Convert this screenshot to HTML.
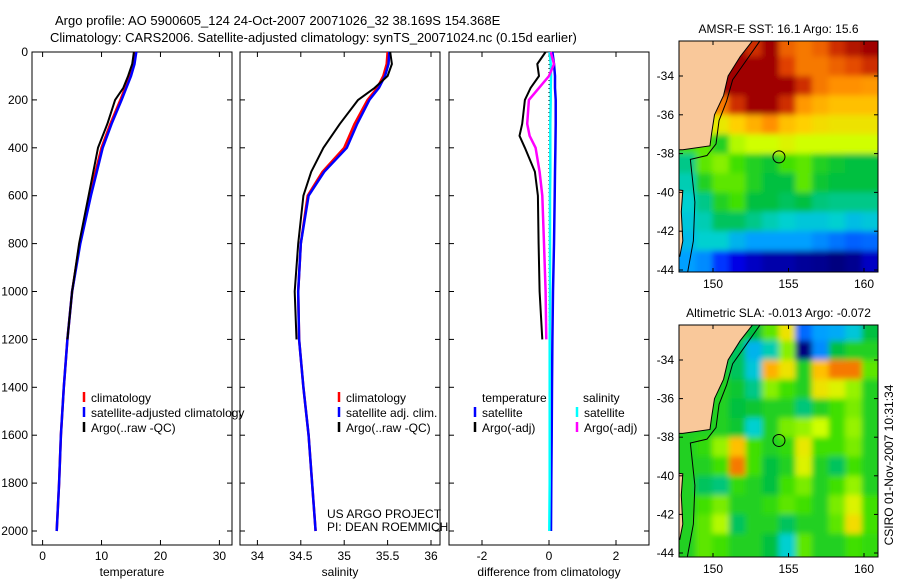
<!DOCTYPE html>
<html><head><meta charset="utf-8"><style>
html,body{margin:0;padding:0;background:#fff;}
svg{display:block;font-family:"Liberation Sans",sans-serif;}
text{font-size:12px;fill:#000;}
</style></head><body>
<svg id="fig" width="900" height="580" viewBox="0 0 900 580" xmlns="http://www.w3.org/2000/svg">
<text x="55" y="25" style="font-size:13px">Argo profile: AO 5900605_124 24-Oct-2007 20071026_32 38.169S 154.368E</text>
<text x="50" y="42" style="font-size:13px">Climatology: CARS2006. Satellite-adjusted climatology: synTS_20071024.nc (0.15d earlier)</text>
<text transform="translate(893,465) rotate(-90)" text-anchor="middle">CSIRO 01-Nov-2007 10:31:34</text>
</svg>
<script>
// ---- data ----
const depths = [0,50,100,150,200,300,400,500,600,800,1000,1200,1400,1600,1800,2000];
const tempClim = [15.7,15.4,14.8,14.0,13.2,11.5,10.0,9.0,8.0,6.3,5.0,4.2,3.6,3.1,2.8,2.4];
const tempSat  = [15.9,15.6,15.0,14.2,13.4,11.7,10.2,9.2,8.2,6.4,5.0,4.2,3.6,3.1,2.8,2.4];
const tempArgo = [15.5,15.2,14.5,13.7,12.3,11.0,9.4,8.6,7.8,6.2,5.0,4.2];
const salClim = [35.50,35.49,35.45,35.38,35.27,35.12,35.00,34.75,34.58,34.50,34.47,34.48,34.53,34.59,34.63,34.67];
const salSat  = [35.52,35.51,35.47,35.40,35.29,35.15,35.03,34.77,34.59,34.50,34.47,34.48,34.53,34.59,34.63,34.67];
const salArgo = [35.53,35.55,35.50,35.35,35.16,34.95,34.76,34.62,34.53,34.47,34.43,34.45];
const diffDepths = [0,50,100,150,200,300,350,400,500,600,800,1000,1200];
const tempArgoDiff = [-0.1,-0.35,-0.3,-0.55,-0.72,-0.8,-0.88,-0.72,-0.42,-0.33,-0.31,-0.28,-0.2];
const salArgoDiff  = [0.05,0.15,0.0,-0.3,-0.6,-0.65,-0.58,-0.4,-0.28,-0.2,-0.15,-0.1,-0.08];
const tempSatDiff = [0.1,0.15,0.18,0.18,0.2,0.2,0.19,0.18,0.17,0.15,0.12,0.1,0.09,0.08,0.07,0.06];
const salSatDiff  = [0.02,0.05,0.06,0.05,0.05,0.04,0.04,0.04,0.03,0.03,0.03,0.02,0.02,0.02,0.02,0.01];
const yTicks = [0,200,400,600,800,1000,1200,1400,1600,1800,2000];
const tTicks = [0,10,20,30];
const sTicks = [34,34.5,35,35.5,36];
const sTickLabels = ["34","34.5","35","35.5","36"];
const dTicks = [-2,0,2];
const mapLons = [148.3,149.4,150.5,151.6,152.7,153.8,154.9,156.0,157.1,158.2,159.3,160.4];
const mapLats = [-32.5,-33.5,-34.5,-35.5,-36.5,-37.5,-38.5,-39.5,-40.5,-41.5,-42.5,-43.5];
const sst = [
[1,1,1,1,.95,1,.9,.88,.9,.95,.98,1],
[1,1,1,1,1,1,.93,.88,.88,.9,.92,.95],
[.9,.95,1,1,1,1,1,.95,.88,.86,.86,.85],
[.8,.82,.88,.95,1,1,.95,.85,.82,.8,.8,.8],
[.72,.72,.74,.78,.82,.86,.8,.78,.76,.75,.75,.75],
[.6,.62,.55,.68,.7,.7,.72,.7,.7,.7,.7,.7],
[.45,.62,.65,.6,.55,.52,.6,.62,.55,.52,.5,.5],
[.42,.55,.62,.62,.55,.5,.5,.62,.52,.5,.5,.5],
[.4,.45,.55,.6,.5,.5,.48,.5,.46,.45,.45,.45],
[.38,.42,.48,.48,.45,.42,.4,.38,.38,.4,.36,.38],
[.35,.4,.4,.34,.3,.3,.3,.3,.28,.26,.24,.25],
[.3,.28,.2,.12,.08,.05,.05,.03,.02,.0,.02,.08]];
const sla = [
[.55,.55,.55,.55,.5,.62,.75,.25,.3,.32,.38,.5],
[.55,.55,.55,.48,.34,.42,.65,.0,.28,.5,.55,.55],
[.55,.55,.55,.48,.38,.82,.75,.55,.8,.88,.88,.62],
[.55,.55,.55,.52,.45,.65,.6,.55,.75,.72,.66,.55],
[.55,.55,.55,.5,.52,.55,.55,.46,.55,.6,.64,.55],
[.55,.55,.55,.52,.4,.55,.64,.66,.7,.6,.66,.55],
[.55,.58,.66,.8,.6,.55,.58,.74,.6,.6,.64,.55],
[.55,.55,.6,.88,.6,.5,.55,.72,.55,.48,.6,.55],
[.55,.48,.46,.58,.55,.5,.6,.64,.55,.6,.66,.55],
[.55,.6,.64,.55,.55,.58,.62,.6,.55,.64,.72,.6],
[.55,.62,.68,.48,.55,.55,.48,.55,.55,.62,.76,.6],
[.55,.62,.6,.55,.55,.5,.4,.62,.55,.55,.6,.58]];
const coastLon = [152.6,151.8,151.0,150.7,150.1,149.9,149.8,148.0,147.7];
const coastLat = [-32.2,-33.0,-34.0,-35.0,-36.0,-37.0,-37.6,-37.8,-37.8];
const argoLon = 154.368, argoLat = -38.169;
const latTicks = [-34,-36,-38,-40,-42,-44];
const lonTicks = [150,155,160];

const NS="http://www.w3.org/2000/svg";
const svg=document.getElementById('fig');
function el(tag,attrs,parent){const e=document.createElementNS(NS,tag);for(const k in attrs)e.setAttribute(k,attrs[k]);(parent||svg).appendChild(e);return e;}
const yTop=52, yBot=545;
const yS=d=>52+d*(531-52)/2000;
const panels=[
 {x0:32,x1:232,sx:v=>42.6+v*(219.4-42.6)/30,name:'temperature-panel'},
 {x0:240,x1:440,sx:v=>257.4+(v-34)*(431-257.4)/2,name:'salinity-panel'},
 {x0:449,x1:649,sx:v=>549+v*33.5,name:'difference-panel'}];
function frame(p,ticks,labels,xlabel){
  const g=el('g',{});
  
  
  const r=el('rect',{x:p.x0,y:yTop,width:p.x1-p.x0,height:yBot-yTop,fill:'none',stroke:'#000','stroke-width':1},g);
  
  ticks.forEach((t,i)=>{const x=p.sx(t);
    el('line',{x1:x,x2:x,y1:yTop,y2:yTop+5,stroke:'#000'},g);
    el('line',{x1:x,x2:x,y1:yBot,y2:yBot-5,stroke:'#000'},g);
    const tx=el('text',{x:x,y:yBot+15,'text-anchor':'middle'},g);tx.textContent=labels[i];
    });
  yTicks.forEach(d=>{const y=yS(d);
    el('line',{x1:p.x0,x2:p.x0+5,y1:y,y2:y,stroke:'#000'},g);
    el('line',{x1:p.x1,x2:p.x1-5,y1:y,y2:y,stroke:'#000'},g);});
  const xl=el('text',{x:(p.x0+p.x1)/2,y:yBot+31,'text-anchor':'middle'},g);xl.textContent=xlabel;
  
  return g;
}
function line(p,xs,ds,color,w,name,dash){
  const pts=xs.map((v,i)=>p.sx(v).toFixed(1)+','+yS(ds[i]).toFixed(1)).join(' ');
  const e=el('polyline',{points:pts,fill:'none',stroke:color,'stroke-width':w,'stroke-linejoin':'round'});
  if(dash)e.setAttribute('stroke-dasharray',dash);
  
}
function legend(x,y,items){
  items.forEach((it,i)=>{const yy=y+i*15;
    const m=el('line',{x1:x,x2:x,y1:yy-10,y2:yy,stroke:it[1],'stroke-width':2.5});
    
    if(it[0]){const t=el('text',{x:x+7,y:yy});t.textContent=it[0];
    }});
}
frame(panels[0],tTicks,tTicks.map(String),'temperature');
frame(panels[1],sTicks,sTickLabels,'salinity');
frame(panels[2],dTicks,dTicks.map(String),'difference from climatology');
yTicks.forEach(d=>{const t=el('text',{x:28,y:yS(d)+4,'text-anchor':'end'});t.textContent=String(d);
  });
line(panels[0],tempClim,depths,'#f00',2.5,'temp-climatology-line');
line(panels[0],tempSat,depths,'#00f',2.5,'temp-satellite-line');
line(panels[0],tempArgo,depths,'#000',2,'temp-argo-line');
line(panels[1],salClim,depths,'#f00',2.5,'sal-climatology-line');
line(panels[1],salSat,depths,'#00f',2.5,'sal-satellite-line');
line(panels[1],salArgo,depths,'#000',2,'sal-argo-line');
line(panels[2],depths.map(()=>0),depths,'#000',1,'zero-line','1,3');
line(panels[2],tempSatDiff,depths,'#00f',2.5,'temp-sat-diff-line');
line(panels[2],salSatDiff,depths,'#0ff',2.5,'sal-sat-diff-line');
line(panels[2],tempArgoDiff,diffDepths,'#000',2,'temp-argo-diff-line');
line(panels[2],salArgoDiff,diffDepths,'#f0f',2.5,'sal-argo-diff-line');
legend(84,402,[['climatology','#f00'],['satellite-adjusted climatology','#00f'],['Argo(..raw -QC)','#000']]);
legend(339,402,[['climatology','#f00'],['satellite adj. clim.','#00f'],['Argo(..raw -QC)','#000']]);
{const t=el('text',{x:482,y:402});t.textContent='temperature';
 const t2=el('text',{x:583,y:402});t2.textContent='salinity';}
legend(475,417,[['satellite','#00f'],['Argo(-adj)','#000']]);
legend(577,417,[['satellite','#0ff'],['Argo(-adj)','#f0f']]);
{const t=el('text',{x:327,y:518});t.textContent='US ARGO PROJECT';
 const t2=el('text',{x:327,y:531});t2.textContent='PI: DEAN ROEMMICH';}

// ---- maps ----
const stops=[[0,'#00007f'],[0.15,'#0000ff'],[0.3,'#00a0ff'],[0.4,'#00d0d0'],[0.5,'#00c040'],[0.6,'#40e000'],[0.7,'#d0ff00'],[0.78,'#ffd000'],[0.86,'#ff9000'],[0.93,'#e04000'],[1,'#a00000']];
function hex(c){return [1,3,5].map(i=>parseInt(c.substr(i,2),16));}
function cmap(v){v=Math.max(0,Math.min(1,v));for(let i=1;i<stops.length;i++){if(v<=stops[i][0]){const a=stops[i-1],b=stops[i];const f=(v-a[0])/(b[0]-a[0]);const A=hex(a[1]),B=hex(b[1]);return 'rgb('+A.map((x,k)=>Math.round(x+(B[k]-x)*f)).join(',')+')';}}return stops[stops.length-1][1];}
function drawMap(y0,y1,grid,title,name,fid){
  const x0=679,x1=878;
  const lonS=l=>713+(l-150)*15.1;
  const latS=y1===272?(a=>76+(-34-a)*19.4):(a=>360+(-34-a)*19.3);
  const g=el('g',{});
  const defs=el('defs',{},g);
  const cp=el('clipPath',{id:'c'+fid},defs);el('rect',{x:x0,y:y0,width:x1-x0,height:y1-y0},cp);
  const flt=el('filter',{id:'f'+fid,x:'-10%',y:'-10%',width:'120%',height:'120%'},defs);el('feGaussianBlur',{stdDeviation:3},flt);
  const inner=el('g',{'clip-path':'url(#c'+fid+')'},g);
  el('rect',{x:x0,y:y0,width:x1-x0,height:y1-y0,fill:cmap(grid[6][6])},inner);
  const cg=el('g',{filter:'url(#f'+fid+')'},inner);
  const dl=1.1, da=1;
  grid.forEach((row,i)=>row.forEach((v,j)=>{
    const cx=lonS(mapLons[j]-dl/2), cy=latS(mapLats[i]+da/2);
    const r=el('rect',{x:cx-(j==0?30:0),y:cy-(i==0?30:0),width:dl*15.1+1+(j==0?30:0)+(j==11?30:0),height:da*19.4+1+(i==0?30:0)+(i==11?30:0),fill:cmap(v)},cg);
    
  }));
  let pts=coastLon.map((l,i)=>lonS(l)+','+latS(coastLat[i])).join(' ');
  pts=lonS(147)+','+latS(-31)+' '+pts+' '+lonS(147)+','+latS(-37.8);
  const land=el('polygon',{points:pts,fill:'#f9c89a',stroke:'#000','stroke-width':1},inner);
  
  const tas=el('polygon',{points:[lonS(147)+','+latS(-39.8),lonS(148.0)+','+latS(-39.9),lonS(147.9)+','+latS(-41),lonS(148.0)+','+latS(-42.5),lonS(147.8)+','+latS(-43.3),lonS(147)+','+latS(-43.3)].join(' '),fill:'#f9c89a',stroke:'#000','stroke-width':1},inner);
  
  const shelf=el('polyline',{points:[lonS(153.1)+','+latS(-32.2),lonS(152.2)+','+latS(-33.2),lonS(151.3)+','+latS(-34.2),lonS(150.9)+','+latS(-35.3),lonS(150.4)+','+latS(-36.3),lonS(150.2)+','+latS(-37.5),lonS(149.6)+','+latS(-38.1),lonS(148.5)+','+latS(-38.3),lonS(148.8)+','+latS(-40.5),lonS(148.7)+','+latS(-42.5),lonS(148.3)+','+latS(-44.2)].join(' '),fill:'none',stroke:'#000','stroke-width':1},inner);
  
  const c=el('circle',{cx:lonS(argoLon),cy:latS(argoLat),r:6,fill:'none',stroke:'#000','stroke-width':1},g);
  
  el('rect',{x:x0,y:y0,width:x1-x0,height:y1-y0,fill:'none',stroke:'#000'},g);
  latTicks.forEach(a=>{const y=latS(a);el('line',{x1:x0,x2:x0+4,y1:y,y2:y,stroke:'#000'},g);el('line',{x1:x1,x2:x1-4,y1:y,y2:y,stroke:'#000'},g);
    const t=el('text',{x:x0-5,y:y+4,'text-anchor':'end'},g);t.textContent=String(a);});
  lonTicks.forEach(l=>{const x=lonS(l);el('line',{x1:x,x2:x,y1:y0,y2:y0+4,stroke:'#000'},g);el('line',{x1:x,x2:x,y1:y1,y2:y1-4,stroke:'#000'},g);
    const t=el('text',{x:x,y:y1+16,'text-anchor':'middle'},g);t.textContent=String(l);});
  const tt=el('text',{x:(x0+x1)/2,y:y0-8,'text-anchor':'middle'},g);tt.textContent=title;
}
drawMap(41,272,sst,'AMSR-E SST: 16.1 Argo: 15.6','sst-map','a');
drawMap(325,557,sla,'Altimetric SLA: -0.013 Argo: -0.072','sla-map','b');
</script>
</body></html>
